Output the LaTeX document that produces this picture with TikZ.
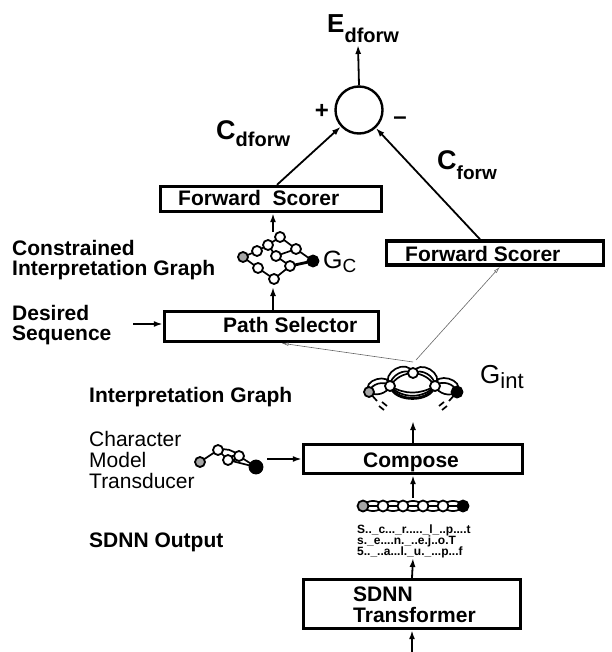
\documentclass[tikz,border=0pt]{standalone}
\usepackage{fontspec}
\setmainfont{Liberation Sans}
\usetikzlibrary{arrows.meta}
\begin{document}
\begin{tikzpicture}[x=1pt,y=-1pt,
  box/.style={draw, line width=3.4pt, inner sep=0pt, fill=white},
  btxt/.style={font=\fontsize{21}{21}\bfseries\selectfont, inner sep=0pt, anchor=base west},
  rtxt/.style={font=\fontsize{21}{21}\selectfont, inner sep=0pt, anchor=base west},
  arr/.style={line width=1.8pt, -{Latex[length=9pt,width=6pt]}},
  thinarr/.style={line width=0.6pt, black!60, -{Latex[open,length=7pt,width=3.5pt]}},
  gn/.style={circle, draw, line width=1.8pt, fill=white, inner sep=0pt, minimum size=10pt},
  gg/.style={gn, fill=black!35},
  gb/.style={gn, fill=black, minimum size=11pt},
  ge/.style={line width=1.7pt},
  stxt/.style={font=\fontsize{12}{12}\bfseries\selectfont, inner sep=0pt, anchor=base west},
]
\useasboundingbox (0,0) rectangle (611,652);

% boxes
\node[box, minimum width=221pt, minimum height=25pt] (fs1) at (271,199) {};
\node[box, minimum width=214pt, minimum height=30pt] (ps) at (271.5,326.5) {};
\node[box, minimum width=217pt, minimum height=24pt] (fs2) at (495,253) {};
\node[box, minimum width=219pt, minimum height=29pt] (comp) at (413,459) {};
\node[box, minimum width=217pt, minimum height=49pt] (sdnn) at (412,604) {};

\node[btxt] (fs1t) at (178,206) {Forward\ \ Scorer};
\node[btxt] (pst) at (223,332) {Path Selector};
\node[btxt] (fs2t) at (405,261) {Forward Scorer};
\node[btxt] (compt) at (363,467) {Compose};
\node[btxt] (sdnnt1) at (353,601) {SDNN};
\node[btxt] (sdnnt2) at (353,622) {Transformer};

% summing circle
\node[circle, draw, line width=2.4pt, minimum size=47pt, inner sep=0pt] (sum) at (359,110) {};
\node[inner sep=0pt, font=\fontsize{24}{24}\bfseries\selectfont] (plus) at (322,111) {+};
\node[inner sep=0pt, font=\fontsize{24}{24}\bfseries\selectfont] (minus) at (400,121) {–};

\node[inner sep=0pt, anchor=base west] (E) at (327,33) {\fontsize{26}{26}\bfseries\selectfont E\raisebox{-10pt}{\fontsize{20}{20}\selectfont dforw}};
\node[inner sep=0pt, anchor=base west] (Cd) at (216,140) {\fontsize{27}{27}\bfseries\selectfont C\raisebox{-7pt}{\fontsize{20}{20}\selectfont dforw}};
\node[inner sep=0pt, anchor=base west] (Cf) at (437,170) {\fontsize{27}{27}\bfseries\selectfont C\raisebox{-10pt}{\fontsize{19}{19}\selectfont forw}};

\coordinate (etop) at (358,45);
\draw[arr] (sum.north) -- (etop);
\draw[arr] ([xshift=6pt]fs1.north) -- (sum);
\draw[arr] ([xshift=-15pt]fs2.north) -- (sum);

% left labels
\node[btxt] (l1a) at (12,255) {Constrained};
\node[btxt] (l1b) at (12,275) {Interpretation Graph};
\node[btxt] (l2a) at (12,320) {Desired};
\node[btxt] (l2b) at (12,340) {Sequence};
\node[btxt] (l3) at (89,402) {Interpretation Graph};
\node[rtxt] (l4a) at (89,446) {Character};
\node[rtxt] (l4b) at (89,467) {Model};
\node[rtxt] (l4c) at (89,488) {Transducer};
\node[btxt] (l5) at (89,547) {SDNN Output};

% G_c graph
\coordinate (c0) at (243,257);
\coordinate (c1) at (257,251);
\coordinate (c2) at (268,245);
\coordinate (c3) at (280,237);
\coordinate (c4) at (276,256);
\coordinate (c5) at (296,249);
\coordinate (c6) at (290,266);
\coordinate (c7) at (258,268);
\coordinate (c8) at (274,279);
\coordinate (c9) at (313,261);
\begin{scope}[ge]
\draw (c0) -- (c1); \draw (c1) -- (c2); \draw (c2) -- (c3); \draw (c3) -- (c5);
\draw (c5) -- (c9); \draw (c2) -- (c4); \draw (c4) -- (c6); \draw (c4) -- (c5);
\draw[line width=2.8pt] (c6) -- (c9); \draw (c0) -- (c7); \draw (c7) -- (c8); \draw (c8) -- (c6);
\end{scope}
\node[gg] (cn0) at (c0) {};
\foreach \n in {1,2,3,4,5,6,7,8} {\node[gn] (cn\n) at (c\n) {};}
\node[gb] (cn9) at (c9) {};
\node[inner sep=0pt, anchor=base west] (Gc) at (323,268) {\fontsize{25}{25}\selectfont G\raisebox{-4pt}{\fontsize{19}{19}\selectfont C}};

\coordinate (gctop) at (273,232);
\coordinate (gcbot) at (273,287);
\draw[arr] (gctop) -- (gctop |- fs1.south);
\draw[arr] (gcbot |- ps.north) -- (gcbot);
\coordinate (dsq) at (133,324);
\draw[arr] (dsq) -- (dsq -| ps.west);

% G_int graph
\coordinate (gi0) at (369,392);
\coordinate (gi1) at (390,386);
\coordinate (gi2) at (413,373);
\coordinate (gi3) at (435,386);
\coordinate (gi4) at (457,392);
\begin{scope}[ge]
\draw (gi0) to[bend left=60] (gi1); \draw (gi0) to[bend right=50] (gi1); \draw (gi0) to[bend left=110, looseness=1.7] (gi1);
\draw (gi1) to[bend left=25] (gi2); \draw (gi1) to[bend left=60] (gi2); \draw (gi1) to[bend left=100, looseness=1.6] (gi2);
\draw (gi2) to[bend left=25] (gi3); \draw (gi2) to[bend left=60] (gi3); \draw (gi2) to[bend left=100, looseness=1.6] (gi3);
\draw (gi3) to[bend left=60] (gi4); \draw (gi3) to[bend right=50] (gi4); \draw (gi3) to[bend left=110, looseness=1.7] (gi4);
\draw (gi1) to[bend right=30] (gi3); \draw (gi1) to[bend right=48] (gi3); \draw (gi1) to[bend right=64] (gi3); \draw (gi1) to[bend right=80] (gi3);
\draw (gi0) -- (377,401); \draw (gi4) -- (449,401);
\draw (379,406) -- (384,410); \draw (382,402) -- (387,406);
\draw (447,406) -- (442,410); \draw (444,402) -- (439,406);
\end{scope}
\node[gg] (gn0) at (gi0) {};
\node[gn] (gn1) at (gi1) {};
\node[gn] (gn2) at (gi2) {};
\node[gn] (gn3) at (gi3) {};
\node[gb] (gn4) at (gi4) {};
\node[inner sep=0pt, anchor=base west] (Gint) at (480,383) {\fontsize{26}{26}\selectfont G\raisebox{-5pt}{\fontsize{22}{22}\selectfont int}};

\coordinate (gibot) at (413,421);
\draw[arr] (comp.north) -- (gibot);
\coordinate (gitop) at (413,362);
\coordinate (gitop2) at (416,360);
\draw[thinarr] (gitop) -- ([xshift=10pt]ps.south);
\draw[thinarr] (gitop2) -- ([xshift=5pt]fs2.south);

% character model transducer
\coordinate (m0) at (200,462);
\coordinate (m1) at (218,450);
\coordinate (m2) at (228,460);
\coordinate (m3) at (239,456);
\coordinate (m4) at (256,467);
\begin{scope}[ge]
\draw (m0) -- (m1); \draw (m1) -- (m2); \draw (m2) to[bend left=40] (m3); \draw (m2) to[bend right=40] (m3);
\draw (m1) to[bend left=30] (m3); \draw (m3) -- (m4); \draw (m2) -- (m4);
\end{scope}
\node[gg] (mn0) at (m0) {};
\node[gn] (mn1) at (m1) {};
\node[gn] (mn2) at (m2) {};
\node[gn] (mn3) at (m3) {};
\node[gb, minimum size=13pt] (mn4) at (m4) {};
\coordinate (cmta) at (267,459);
\draw[arr] (cmta) -- (cmta -| comp.west);

% SDNN output graph
\foreach \i/\x in {0/363,1/383,2/403,3/423,4/443,5/463} {\coordinate (s\i) at (\x,506);}
\begin{scope}[ge]
\foreach \a/\b in {s0/s1,s1/s2,s2/s3,s3/s4,s4/s5} {
  \draw (\a) to[bend left=60] (\b); \draw (\a) to[bend right=60] (\b); \draw (\a) -- (\b);
}
\end{scope}
\node[gg, minimum size=11pt] (sn0) at (s0) {};
\foreach \i in {1,2,3,4} {\node[gn, minimum size=11pt] (sn\i) at (s\i) {};}
\node[gb, minimum size=11pt] (sn5) at (s5) {};
\node[stxt] (o1) at (357,533) {S..\_c...\_r.....\_l\_..p....t};
\node[stxt] (o2) at (357,544) {s.\_e....n.\_..e.j..o.T};
\node[stxt] (o3) at (357,555) {5..\_..a...l.\_u.\_...p...f};

\coordinate (sotop) at (413,498);
\draw[arr] (sotop) -- (comp.south);
\coordinate (sobot) at (413,558);
\draw[arr] (sdnn.north) -- (sobot);
\coordinate (inb) at (412,652);
\draw[arr] (inb) -- (sdnn.south);
\end{tikzpicture}
\end{document}
